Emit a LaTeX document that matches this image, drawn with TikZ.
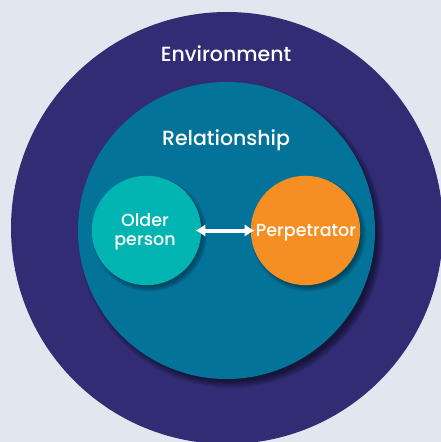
\documentclass[tikz,border=0pt]{standalone}
\usepackage{fontspec}
\setmainfont{Poppins}[UprightFont={* Medium}]
\definecolor{bgcol}{HTML}{E2E7EF}
\definecolor{envcol}{HTML}{312C74}
\definecolor{relcol}{HTML}{04739A}
\definecolor{oldcol}{HTML}{03B5B2}
\definecolor{percol}{HTML}{F68F23}
\usetikzlibrary{arrows.meta}
\begin{document}
\begin{tikzpicture}[x=1pt,y=-1pt,
  lbl/.style={text=white,align=center,inner sep=0pt,anchor=base},
  big/.style={font=\fontsize{20.5}{22}\selectfont},
  small/.style={font=\fontsize{17.5}{18.3}\selectfont},
  disc/.style={circle,inner sep=0pt,draw=none},
  link/.style={draw=white,line width=4pt,{Latex[length=10pt,width=13pt]}-{Latex[length=10pt,width=13pt]}}]
  \useasboundingbox (0,0) rectangle (441,442);
  \fill[bgcol] (0,0) rectangle (441,442);
  \begin{scope}
    \clip (0,0) rectangle (441,442);
    \node[disc,fill=envcol,minimum size=432pt] (env) at (227,228) {};
  \end{scope}
  % shadow of relationship circle
  \foreach \d in {4,3,2,1,0,-1,-2,-3}{
    \fill[black,opacity=0.075] (231,235.5) circle[radius=148.5+\d];
  }
  \node[disc,fill=relcol,minimum size=297pt] (rel) at (226.5,230.5) {};
  % shadows of small circles
  \foreach \d in {3,2,1,0,-1,-2}{
    \fill[black,opacity=0.07] (149.5,234) circle[radius=54.7+\d];
    \fill[black,opacity=0.07] (308.5,234) circle[radius=54.7+\d];
  }
  \node[disc,fill=oldcol,minimum size=109.4pt] (old) at (146.5,230.5) {};
  \node[disc,fill=percol,minimum size=109.4pt] (per) at (305.5,230.5) {};
  \node[lbl,big] (envt) at (226,61.7) {Environment};
  \node[lbl,big] (relt) at (226,145) {Relationship};
  \node[lbl,small] (oldt) at (145,245) {Older\\person};
  \node[lbl,small] (pert) at (306,236) {Perpetrator};
  \draw[link] ([xshift=-6pt]old.east) -- ([xshift=4pt]per.west);
\end{tikzpicture}
\end{document}
